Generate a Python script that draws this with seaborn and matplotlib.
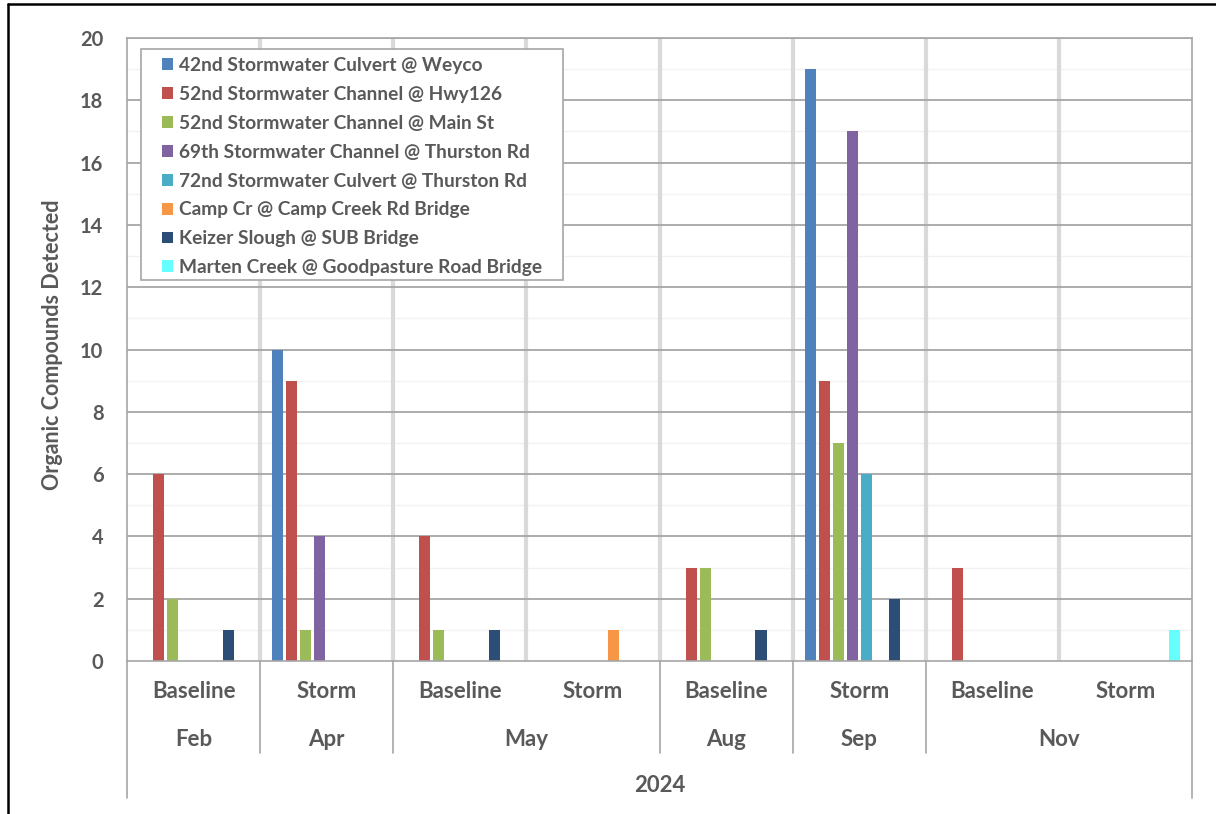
import matplotlib
matplotlib.use("Agg")
import matplotlib.pyplot as plt
from matplotlib.patches import Patch, Rectangle
from matplotlib.lines import Line2D
import numpy as np
import pandas as pd
import seaborn as sns

# Sampling events (sample type, month)
sample_types = ["Baseline", "Storm", "Baseline", "Storm", "Baseline", "Storm", "Baseline", "Storm"]
months = ["Feb", "Apr", "May", "May", "Aug", "Sep", "Nov", "Nov"]
year = "2024"

sites = [
    "42nd Stormwater Culvert @ Weyco",
    "52nd Stormwater Channel @ Hwy126",
    "52nd Stormwater Channel @ Main St",
    "69th Stormwater Channel @ Thurston Rd",
    "72nd Stormwater Culvert @ Thurston Rd",
    "Camp Cr @ Camp Creek Rd Bridge",
    "Keizer Slough @ SUB Bridge",
    "Marten Creek @ Goodpasture Road Bridge",
]

# Organic compounds detected per site, one value per sampling event
weyco_42 = [0, 10, 0, 0, 0, 19, 0, 0]
hwy126_52 = [6, 9, 4, 0, 3, 9, 3, 0]
mainst_52 = [2, 1, 1, 0, 3, 7, 0, 0]
thurston_69 = [0, 4, 0, 0, 0, 17, 0, 0]
thurston_72 = [0, 0, 0, 0, 0, 6, 0, 0]
camp_creek = [0, 0, 0, 1, 0, 0, 0, 0]
keizer_slough = [1, 0, 1, 0, 1, 2, 0, 0]
marten_creek = [0, 0, 0, 0, 0, 0, 0, 1]

series = [weyco_42, hwy126_52, mainst_52, thurston_69, thurston_72,
          camp_creek, keizer_slough, marten_creek]

colors = ["#4F81BD", "#C0504D", "#9BBB59", "#8064A2", "#4BACC6",
          "#F79646", "#2C4D75", "#66FFFF"]

event_ids = [f"{m} {t}" for m, t in zip(months, sample_types)]
rows = []
for site, vals in zip(sites, series):
    for ev, v in zip(event_ids, vals):
        rows.append({"event": ev, "site": site, "count": v})
df = pd.DataFrame(rows)

sns.set_theme(style="white")
plt.rcParams["font.family"] = ["Lato", "DejaVu Sans"]
txt = "#595959"

W, H = 1216, 814
fig = plt.figure(figsize=(W / 100, H / 100), dpi=100)
ax = fig.add_axes([127 / W, 1 - 661 / H, (1192 - 127) / W, (661 - 38) / H])

# gridlines: darker at even values, faint at odd values
for y in range(1, 20, 2):
    ax.axhline(y, color="#f2f2f2", lw=1.0, zorder=0)
for y in range(2, 21, 2):
    ax.axhline(y, color="#a6a6a6", lw=1.3, zorder=0.5)
# light separators between sampling events
for xb in np.arange(0.5, 7.5, 1.0):
    ax.axvline(xb, color="#d9d9d9", lw=3, zorder=0.4)

sns.barplot(data=df, x="event", y="count", hue="site", order=event_ids,
            hue_order=sites, palette=colors, saturation=1, width=0.84, gap=0.2,
            linewidth=0, legend=False, ax=ax, zorder=2)

ax.set_xlim(-0.5, 7.5)
ax.set_ylim(0, 20)
ax.set_yticks(range(0, 21, 2))
ax.set_yticklabels([str(v) for v in range(0, 21, 2)], fontsize=14.5,
                   fontweight="bold", color=txt)
ax.tick_params(axis="y", length=0, pad=17)
ax.set_xticks([])
ax.set_xlabel("")
ax.set_ylabel("")
for s in ax.spines.values():
    s.set_color("#a6a6a6")
    s.set_linewidth(1.2)

fig.text(53 / W, 1 - 345 / H, "Organic Compounds Detected", rotation=90,
         ha="center", va="center", fontsize=15.5, fontweight="bold", color=txt)

# multi-level category axis
tr = ax.get_xaxis_transform()
ax_w = 1192 - 127
ax_h = 661 - 38
def xax(px):
    return (px - 127) / ax_w
def yax(px):
    return (661 - px) / ax_h

for i, t in enumerate(sample_types):
    ax.text(i, yax(692), t, transform=tr, ha="center", va="center",
            fontsize=16, fontweight="bold", color=txt)

month_spans = []
start = 0
for i in range(1, len(months) + 1):
    if i == len(months) or months[i] != months[start]:
        month_spans.append((months[start], start, i - 1))
        start = i
for name, a, b in month_spans:
    ax.text((a + b) / 2, yax(740), name, transform=tr, ha="center", va="center",
            fontsize=16, fontweight="bold", color=txt)

ax.text(3.5, yax(785), year, transform=tr, ha="center", va="center",
        fontsize=16, fontweight="bold", color=txt)

bounds = [-0.5] + [b + 0.5 for _, _, b in month_spans]
for xb in bounds:
    bottom = yax(798) if xb in (-0.5, 7.5) else yax(753)
    ax.add_line(Line2D([xb, xb], [0, bottom], transform=tr, color="#a6a6a6",
                       lw=1.2, clip_on=False))

# legend box with roomy padding
ax.add_patch(Rectangle((xax(141), yax(280)), xax(563) - xax(141), yax(49) - yax(280),
                       transform=ax.transAxes, facecolor="white", edgecolor="#a6a6a6",
                       lw=1.2, zorder=4))
handles = [Patch(facecolor=c, edgecolor="none", label=s) for s, c in zip(sites, colors)]
leg = ax.legend(handles=handles, loc="upper left",
                bbox_to_anchor=(xax(162), yax(57)),
                frameon=False, fontsize=13.8, handlelength=0.58, handleheight=0.58,
                handletextpad=0.32, labelspacing=0.62, borderpad=0,
                borderaxespad=0)
for t in leg.get_texts():
    t.set_color(txt)
    t.set_fontweight("bold")
leg.set_zorder(5)

# outer frame
fig.add_artist(Line2D([8 / W, 8 / W], [0, 1 - 4 / H], transform=fig.transFigure,
                      color="black", lw=1.8))
fig.add_artist(Line2D([8 / W, 1], [1 - 4 / H, 1 - 4 / H], transform=fig.transFigure,
                      color="black", lw=1.8))

fig.savefig("out.png", dpi=100, facecolor="white")
